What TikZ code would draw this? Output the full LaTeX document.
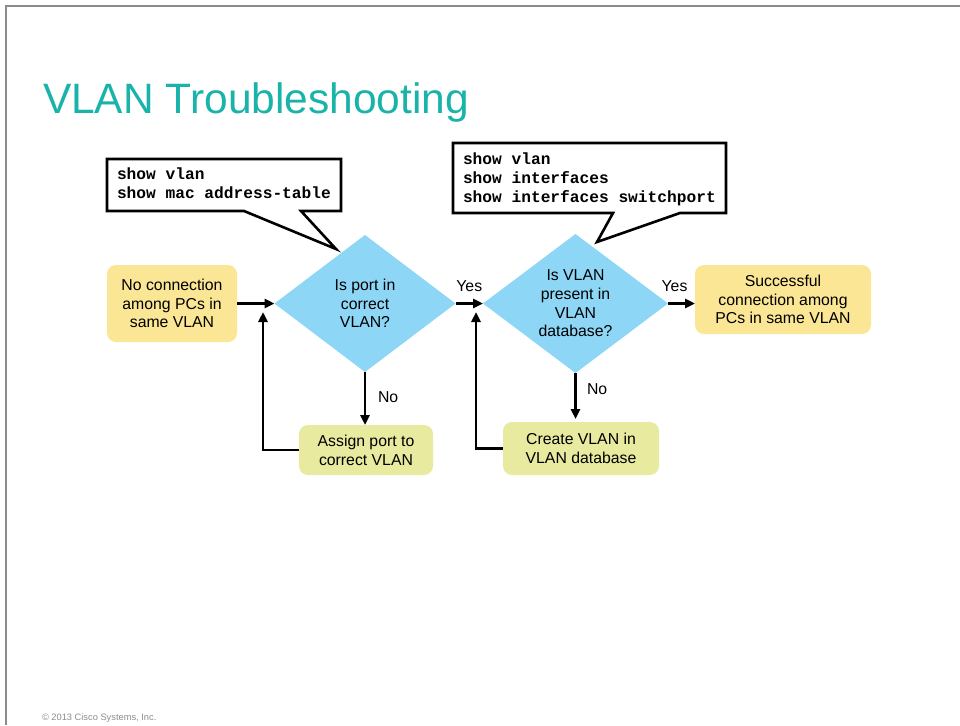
\documentclass[tikz,border=0pt]{standalone}
\usepackage{fontspec}
\setmainfont{Liberation Sans}
\newfontfamily\codefont{Liberation Mono}
\usetikzlibrary{shapes.geometric,arrows.meta}

\definecolor{titleteal}{RGB}{26,179,170}
\definecolor{decisionblue}{RGB}{141,214,245}
\definecolor{stateyellow}{RGB}{250,230,148}
\definecolor{actiongreen}{RGB}{232,234,160}
\definecolor{framegray}{RGB}{140,140,140}
\definecolor{notegray}{RGB}{140,140,140}

\begin{document}
\begin{tikzpicture}[x=1pt,y=-1pt,
  every node/.style={inner sep=0pt, outer sep=0pt},
  body/.style={font=\fontsize{15.8}{18.7}\selectfont, align=center},
  statebox/.style={body, fill=stateyellow, rounded corners=9pt},
  actionbox/.style={body, fill=actiongreen, rounded corners=9pt},
  decision/.style={body, diamond, fill=decisionblue, aspect=1.33},
  flow/.style={line width=2.6pt, -{Triangle[length=10pt,width=9pt]}},
  cmdtext/.style={font=\codefont\bfseries\fontsize{16.2}{19}\selectfont, align=left, anchor=north west},
  callout/.style={draw, line width=2.6pt, fill=white, line join=miter},
  lbl/.style={font=\fontsize{15.8}{18}\selectfont},
]
\useasboundingbox (0,0) rectangle (960,725);

% slide frame
\draw[framegray, line width=1.2pt] (6,725) -- (6,6) -- (960,6);

% title
\node[anchor=base west, text=titleteal, font=\fontsize{42.5}{50}\selectfont] (title) at (43,113) {VLAN Troubleshooting};

% flowchart nodes
\node[statebox, minimum width=130pt, minimum height=77pt] (start) at (172,303.5) {No connection\\among PCs in\\same VLAN};
\node[decision, minimum width=181pt, minimum height=137pt] (d1) at (365,303.5) {Is port in\\correct\\VLAN?};
\node[decision, minimum width=185pt, minimum height=139pt] (d2) at (575.5,303.5) {Is VLAN\\present in\\VLAN\\database?};
\node[statebox, minimum width=176pt, minimum height=69pt] (success) at (783,299.5) {Successful\\connection among\\PCs in same VLAN};
\node[actionbox, minimum width=134pt, minimum height=50pt] (assign) at (366,450) {Assign port to\\correct VLAN};
\node[actionbox, minimum width=156pt, minimum height=53pt] (create) at (581,448.5) {Create VLAN in\\VLAN database};

% return points of the feedback loops
\coordinate (loop1) at (263,312);
\coordinate (loop2) at (476,312);

% connectors
\draw[flow] (start.east |- d1.west) -- (d1.west);
\draw[flow] (d1.east) -- node[lbl, anchor=base, yshift=12.5pt] (yes1) {Yes} (d2.west);
\draw[flow] (d2.east) -- node[lbl, anchor=base, yshift=12.5pt, xshift=-7pt] (yes2) {Yes} (success.west |- d2.east);
\draw[flow] (d1.south) -- node[lbl, anchor=base west, xshift=13pt, yshift=-3.5pt] (no1) {No} (d1.south |- assign.north);
\draw[flow, shorten >=3pt] (d2.south) -- node[lbl, anchor=base west, xshift=11.5pt, yshift=3.5pt] (no2) {No} (d2.south |- create.north);
\draw[flow] (assign.west) -| (loop1);
\draw[flow] (create.west) -| (loop2);

% command callouts
\coordinate (tipA) at (336,249);
\draw[callout] (107,159) -- (341,159) -- (341,211) -- (301,211) -- (tipA) -- (244,211) -- (107,211) -- cycle;
\node[cmdtext] (cmdA) at (117,168) {show vlan\\show mac address-table};

\coordinate (tipB) at (597,242);
\draw[callout] (453,143) -- (726,143) -- (726,213) -- (680,213) -- (tipB) -- (613,213) -- (453,213) -- cycle;
\node[cmdtext] (cmdB) at (463,153) {show vlan\\show interfaces\\show interfaces switchport};

% footer
\node[anchor=base west, text=notegray, font=\fontsize{9.3}{11}\selectfont] (copy) at (42,720) {© 2013 Cisco Systems, Inc.};
\end{tikzpicture}
\end{document}
